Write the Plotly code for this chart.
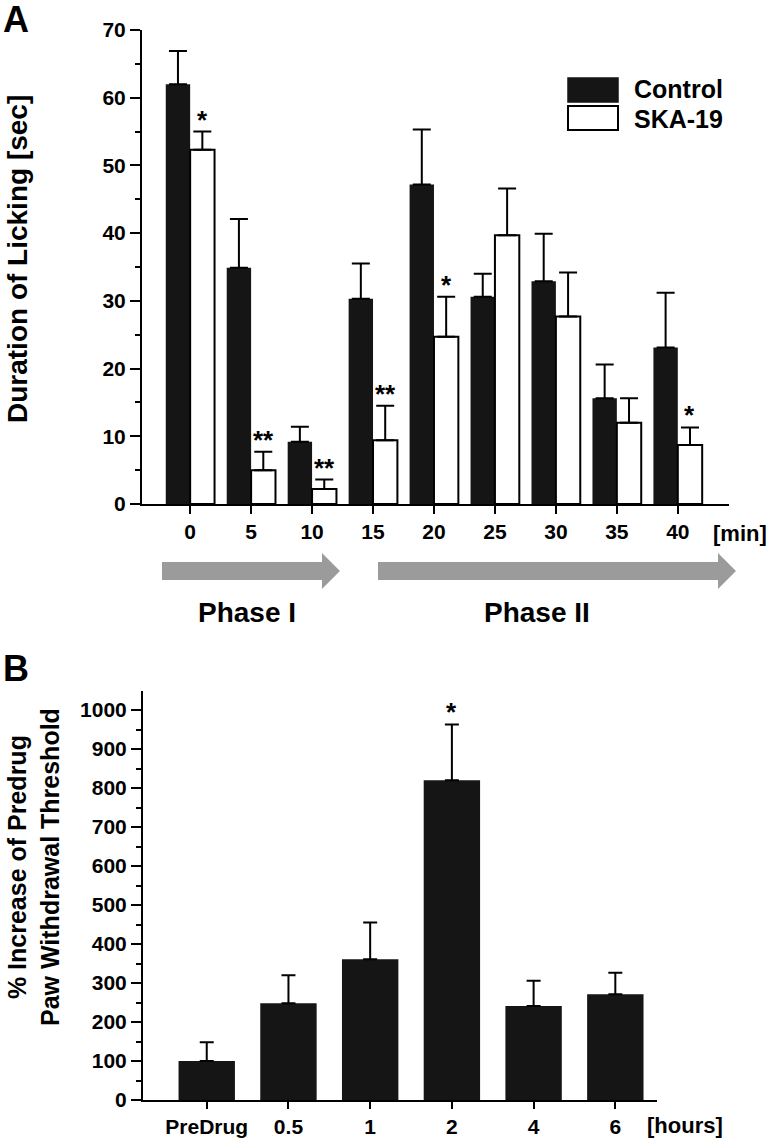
import plotly.graph_objects as go

W, H = 773, 1140

# ---------------- data ----------------
# Panel A: formalin test, duration of licking [sec]
times = ["0", "5", "10", "15", "20", "25", "30", "35", "40"]
control = [62.0, 34.9, 9.2, 30.3, 47.2, 30.6, 32.9, 15.6, 23.1]
control_err = [4.9, 7.2, 2.2, 5.2, 8.1, 3.4, 7.0, 5.0, 8.1]
ska19 = [52.3, 5.0, 2.2, 9.4, 24.7, 39.7, 27.7, 12.0, 8.7]
ska19_err = [2.7, 2.7, 1.4, 5.1, 5.9, 6.9, 6.5, 3.6, 2.6]
ska19_sig = ["*", "**", "**", "**", "*", "", "", "", "*"]

# Panel B: % increase of predrug paw withdrawal threshold
hours = ["PreDrug", "0.5", "1", "2", "4", "6"]
pct = [100, 248, 361, 820, 241, 271]
pct_err = [48, 72, 94, 143, 65, 55]
pct_sig = ["", "", "", "*", "", ""]

FONT = "Liberation Sans, Arial, Helvetica, sans-serif"
BLACK = "#151515"
GREY = "#9b9b9b"


def px(x):
    return x / W


def py(y):
    return 1 - y / H


def bold(size):
    return dict(family=FONT, size=size, color="black", weight="bold")


fig = go.Figure()

xa = list(range(len(times)))
fig.add_trace(go.Bar(
    x=xa, y=control, name="Control",
    marker=dict(color=BLACK, line=dict(color=BLACK, width=0)),
    error_y=dict(type="data", array=control_err, arrayminus=[0] * len(control),
                 symmetric=False, color="black", thickness=2, width=9),
    xaxis="x", yaxis="y", showlegend=False,
))
fig.add_trace(go.Bar(
    x=xa, y=ska19, name="SKA-19",
    marker=dict(color="white", line=dict(color="black", width=2)),
    error_y=dict(type="data", array=ska19_err, arrayminus=[0] * len(ska19),
                 symmetric=False, color="black", thickness=2, width=9),
    xaxis="x", yaxis="y", showlegend=False,
))

xb = list(range(len(hours)))
fig.add_trace(go.Bar(
    x=xb, y=pct, width=0.69,
    marker=dict(color=BLACK, line=dict(color=BLACK, width=0)),
    error_y=dict(type="data", array=pct_err, arrayminus=[0] * len(pct),
                 symmetric=False, color="black", thickness=2, width=7),
    xaxis="x2", yaxis="y2", showlegend=False,
))

axis_common = dict(showline=True, linecolor="black", linewidth=2,
                   ticks="outside", tickcolor="black", tickwidth=2,
                   showgrid=False, zeroline=False, fixedrange=True,
                   automargin=False)

fig.update_layout(
    template="none",
    width=W, height=H,
    margin=dict(l=0, r=0, t=0, b=0, pad=0),
    paper_bgcolor="white", plot_bgcolor="white",
    font=dict(family=FONT, color="black"),
    barmode="group", bargap=0.2, bargroupgap=0,
    xaxis=dict(domain=[px(142), px(729)], range=[-0.79, 8.84],
               tickmode="array", tickvals=xa, ticktext=times, ticklen=8,
               tickfont=bold(21), anchor="y", **axis_common),
    yaxis=dict(domain=[py(504), py(30)], range=[0, 70],
               tickmode="array", tickvals=list(range(0, 71, 10)), ticklen=10,
               minor=dict(tickvals=list(range(5, 70, 10)), ticklen=5, tickwidth=2,
                          tickcolor="black", ticks="outside", showgrid=False),
               tickfont=bold(21), anchor="x", **axis_common),
    xaxis2=dict(domain=[px(143), px(657)], range=[-0.78, 5.51],
                tickmode="array", tickvals=xb, ticktext=hours, ticklen=7,
                tickfont=bold(21), anchor="y2", **axis_common),
    yaxis2=dict(domain=[py(1100), py(690.5)], range=[0, 1050],
                tickmode="array", tickvals=list(range(0, 1001, 100)), ticklen=10,
                minor=dict(tickvals=list(range(50, 1050, 100)), ticklen=5, tickwidth=2,
                           tickcolor="black", ticks="outside", showgrid=False),
                tickfont=bold(21), anchor="x2", **axis_common),
)

ann = []
shapes = []

# significance stars
for i, s in enumerate(ska19_sig):
    if s:
        ann.append(dict(x=i + 0.2, y=ska19[i] + ska19_err[i], xref="x", yref="y",
                        text=s, showarrow=False, yanchor="middle", yshift=12,
                        font=bold(26)))
for i, s in enumerate(pct_sig):
    if s:
        ann.append(dict(x=i, y=pct[i] + pct_err[i], xref="x2", yref="y2",
                        text=s, showarrow=False, yanchor="middle", yshift=12,
                        font=bold(26)))

# panel letters
ann.append(dict(x=px(1), y=py(19), xref="paper", yref="paper", text="A", showarrow=False,
                xanchor="left", yanchor="middle", font=bold(36)))
ann.append(dict(x=px(1), y=py(668), xref="paper", yref="paper", text="B", showarrow=False,
                xanchor="left", yanchor="middle", font=bold(36)))

# axis titles
ann.append(dict(x=px(17), y=py(259), xref="paper", yref="paper",
                text="Duration of Licking [sec]", textangle=-90, showarrow=False,
                xanchor="center", yanchor="middle", font=bold(28)))
ann.append(dict(x=px(33), y=py(867), xref="paper", yref="paper",
                text="% Increase of Predrug<br>Paw Withdrawal Threshold", textangle=-90,
                showarrow=False, xanchor="center", yanchor="middle", font=bold(25)))

# unit labels
ann.append(dict(x=px(740), y=py(533), xref="paper", yref="paper", text="[min]",
                showarrow=False, xanchor="center", yanchor="middle", font=bold(22)))
ann.append(dict(x=px(685), y=py(1125), xref="paper", yref="paper", text="[hours]",
                showarrow=False, xanchor="center", yanchor="middle", font=bold(22)))

# phase labels
ann.append(dict(x=px(247), y=py(612), xref="paper", yref="paper", text="Phase I",
                showarrow=False, xanchor="center", yanchor="middle", font=bold(28)))
ann.append(dict(x=px(537), y=py(612), xref="paper", yref="paper", text="Phase II",
                showarrow=False, xanchor="center", yanchor="middle", font=bold(28)))


def arrow(x0, xb_, xt, yc=571, hs=9, hh=18):
    pts = [(x0, yc - hs), (xb_, yc - hs), (xb_, yc - hh), (xt, yc),
           (xb_, yc + hh), (xb_, yc + hs), (x0, yc + hs)]
    path = "M " + " L ".join(f"{px(a):.5f},{py(b):.5f}" for a, b in pts) + " Z"
    return dict(type="path", xref="paper", yref="paper", path=path,
                fillcolor=GREY, line=dict(width=0))


shapes.append(arrow(162, 322, 340))
shapes.append(arrow(378, 718, 736))

# legend (manual)
shapes.append(dict(type="rect", xref="paper", yref="paper",
                   x0=px(568), x1=px(618), y0=py(102), y1=py(78),
                   fillcolor=BLACK, line=dict(color=BLACK, width=1.5)))
shapes.append(dict(type="rect", xref="paper", yref="paper",
                   x0=px(568), x1=px(618), y0=py(130), y1=py(106),
                   fillcolor="white", line=dict(color="black", width=2)))
ann.append(dict(x=px(632), y=py(89), xref="paper", yref="paper", text="Control",
                showarrow=False, xanchor="left", yanchor="middle", font=bold(25)))
ann.append(dict(x=px(632), y=py(119), xref="paper", yref="paper", text="SKA-19",
                showarrow=False, xanchor="left", yanchor="middle", font=bold(25)))

fig.update_layout(annotations=ann, shapes=shapes)

fig.write_html("out.html", config={"displayModeBar": False},
               post_script="document.body.style.margin='0';")
